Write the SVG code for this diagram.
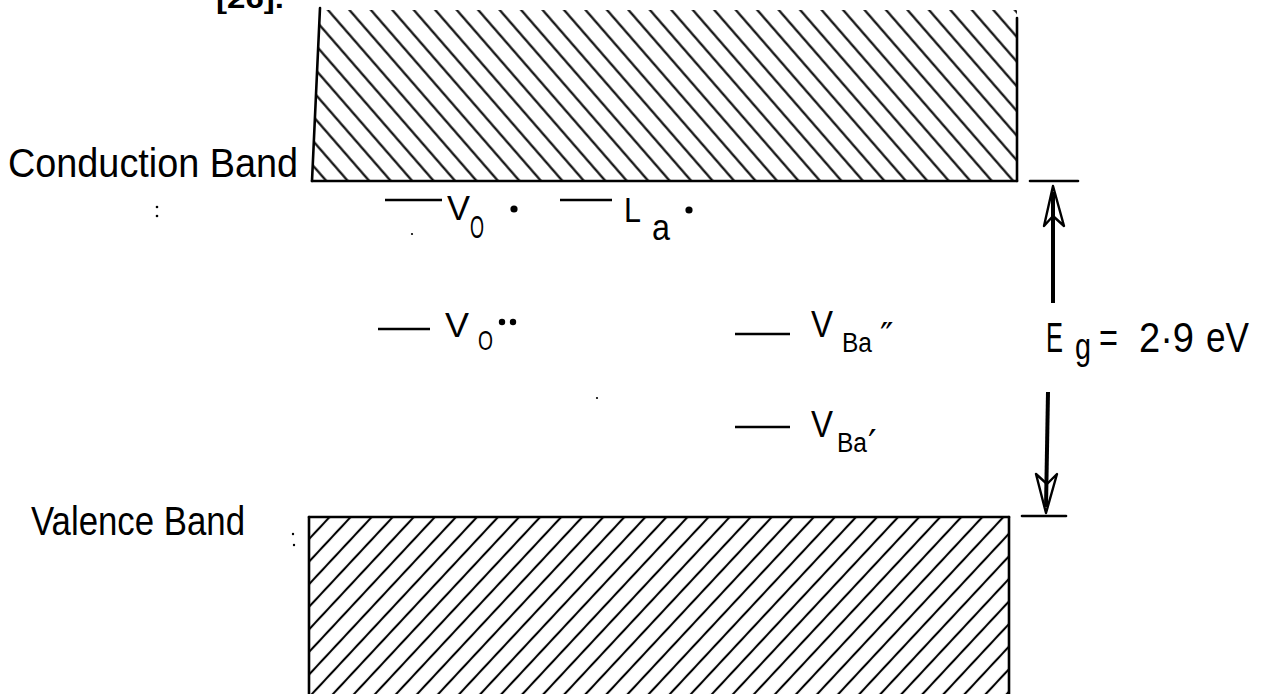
<svg xmlns="http://www.w3.org/2000/svg" width="1261" height="694" viewBox="0 0 1261 694">
<style>
.t{font-family:"Liberation Sans",Arial,sans-serif;fill:#000}
.p{font-family:"DejaVu Sans",sans-serif;fill:#000}
.edge{stroke:#000;stroke-width:2.6;fill:none;stroke-linecap:round}
.lvl{stroke:#000;stroke-width:2.4;fill:none}
.shaft{stroke:#000;stroke-width:4;fill:none}
.head{stroke:#000;stroke-width:2.4;fill:#fff;stroke-linejoin:round}
</style>
<defs>
<pattern id="hatchCB" patternUnits="userSpaceOnUse" width="20" height="16.2" patternTransform="translate(334.2,4.7) rotate(49)">
<rect x="0" y="7.1" width="20" height="2.1" fill="#000"/>
</pattern>
<pattern id="hatchVB" patternUnits="userSpaceOnUse" width="20" height="15.4" patternTransform="translate(345,511.8) rotate(-47)">
<rect x="0" y="6.65" width="20" height="2.1" fill="#000"/>
</pattern>
</defs>
<rect width="1261" height="694" fill="#fff"/>
<text class="t" x="216" y="8" font-size="28" font-weight="bold" textLength="68" lengthAdjust="spacingAndGlyphs">[26].</text>

<g id="conduction-band">
<polygon points="320,10 1017,10 1017,181 312,181" fill="url(#hatchCB)"/>
<line class="edge" x1="320" y1="8" x2="312" y2="181"/>
<line class="edge" x1="1017" y1="18" x2="1017" y2="181"/>
<line class="edge" x1="312" y1="181" x2="1017" y2="181" stroke-width="3"/>
<text class="t" x="8" y="177" font-size="40" textLength="290" lengthAdjust="spacingAndGlyphs">Conduction Band</text>
</g>

<g id="valence-band">
<polygon points="309,517 1009,517 1009,694 309,694" fill="url(#hatchVB)"/>
<line class="edge" x1="309" y1="517" x2="1009" y2="517" stroke-width="3"/>
<line class="edge" x1="309" y1="517" x2="309" y2="694"/>
<line class="edge" x1="1009" y1="517" x2="1009" y2="694"/>
<text class="t" x="31" y="535" font-size="41" textLength="214" lengthAdjust="spacingAndGlyphs">Valence Band</text>
</g>

<g id="level-VO1">
<line class="lvl" x1="385" y1="200" x2="442" y2="200"/>
<text class="t" x="447" y="220" font-size="35" textLength="23" lengthAdjust="spacingAndGlyphs">V</text>
<text class="t" x="470" y="238" font-size="32" textLength="14" lengthAdjust="spacingAndGlyphs">O</text>
<circle cx="514" cy="209" r="3.6"/>
</g>

<g id="level-La">
<line class="lvl" x1="560" y1="200" x2="612" y2="200"/>
<text class="t" x="624" y="222" font-size="35" textLength="17" lengthAdjust="spacingAndGlyphs">L</text>
<text class="t" x="652" y="240" font-size="36" textLength="18" lengthAdjust="spacingAndGlyphs">a</text>
<circle cx="689" cy="210" r="3.6"/>
</g>

<g id="level-VO2">
<line class="lvl" x1="378" y1="329" x2="430" y2="329"/>
<text class="t" x="445" y="337" font-size="35" textLength="24" lengthAdjust="spacingAndGlyphs">V</text>
<text class="t" x="478" y="350" font-size="28" textLength="15" lengthAdjust="spacingAndGlyphs">O</text>
<circle cx="502" cy="322" r="3.2"/>
<circle cx="513" cy="322" r="3.2"/>
</g>

<g id="level-VBa2">
<line class="lvl" x1="735" y1="334" x2="790" y2="334"/>
<text class="t" x="811" y="337" font-size="36" textLength="22" lengthAdjust="spacingAndGlyphs">V</text>
<text class="t" x="842" y="352" font-size="27" textLength="30" lengthAdjust="spacingAndGlyphs">Ba</text>
<text class="p" x="880" y="348" font-size="36">″</text>
</g>

<g id="level-VBa1">
<line class="lvl" x1="735" y1="427" x2="790" y2="427"/>
<text class="t" x="811" y="437" font-size="36" textLength="22" lengthAdjust="spacingAndGlyphs">V</text>
<text class="t" x="837" y="452" font-size="27" textLength="30" lengthAdjust="spacingAndGlyphs">Ba</text>
<text class="p" x="868" y="456" font-size="38">′</text>
</g>

<g id="band-gap-label">
<line class="edge" x1="1030" y1="181" x2="1078" y2="181" stroke-width="3"/>
<line class="edge" x1="1022" y1="516" x2="1066" y2="516" stroke-width="3"/>
<text class="t" x="1046" y="352" font-size="42" textLength="17" lengthAdjust="spacingAndGlyphs">E</text>
<text class="t" x="1075" y="359" font-size="36" textLength="16" lengthAdjust="spacingAndGlyphs">g</text>
<text class="t" x="1099" y="352" font-size="42" textLength="19" lengthAdjust="spacingAndGlyphs">=</text>
<text class="t" x="1139" y="352" font-size="42" textLength="55" lengthAdjust="spacingAndGlyphs">2·9</text>
<text class="t" x="1206" y="352" font-size="42" textLength="43" lengthAdjust="spacingAndGlyphs">eV</text>
</g>

<g id="connectors">
<polygon class="head" points="1053,186 1044,226 1053,216 1064,226"/>
<line class="shaft" x1="1053" y1="303" x2="1053" y2="192"/>
<polygon class="head" points="1046,513 1036,474 1047,484 1057,474"/>
<line class="shaft" x1="1048" y1="392" x2="1046" y2="507"/>
</g>

<g id="specks" fill="#000">
<circle cx="157" cy="207" r="1.3"/>
<circle cx="157" cy="216" r="1.3"/>
<circle cx="293" cy="534" r="1.2"/>
<circle cx="294" cy="545" r="1.2"/>
<circle cx="412" cy="234" r="1.1"/>
<circle cx="597" cy="398" r="1.1"/>
</g>
</svg>
